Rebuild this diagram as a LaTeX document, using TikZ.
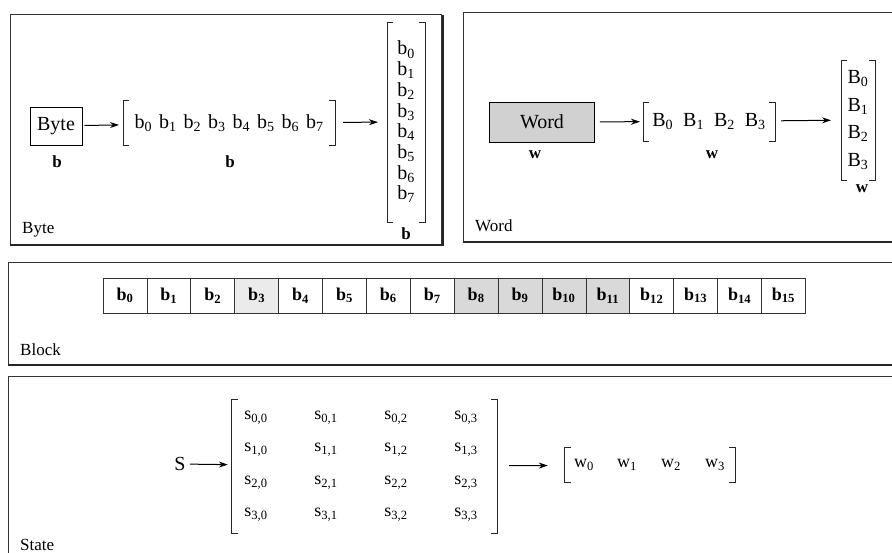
\documentclass[tikz,border=0pt]{standalone}
\usepackage{fontspec}
\setmainfont{Liberation Serif}
\usetikzlibrary{arrows.meta}
\newcommand\bsub[2]{#1\textsubscript{#2}}
\newcommand\gp{\hspace{7pt}}
\newcommand\drawbrackets[2]{%
  \draw[brk] ([xshift=#2]#1.north west) -- (#1.north west) -- (#1.south west) -- ([xshift=#2]#1.south west);
  \draw[brk] ([xshift=-#2]#1.north east) -- (#1.north east) -- (#1.south east) -- ([xshift=-#2]#1.south east);}
\begin{document}
\begin{tikzpicture}[x=1pt,y=-1pt,
  txt/.style={font=\fontsize{20}{22}\selectfont, inner sep=0pt},
  lbl/.style={font=\fontsize{17}{19}\selectfont, inner sep=0pt},
  bld/.style={font=\fontsize{17}{19}\selectfont\bfseries, inner sep=0pt},
  grp/.style={inner sep=0pt, outer sep=0pt, font=\fontsize{20}{20.7}\selectfont, align=center},
  brk/.style={line width=0.9pt, black!85},
  arr/.style={line width=1pt, -{Stealth[length=9pt,width=6pt]}},
  panel/.style={draw=black!80, line width=0.8pt},
  shadow/.style={line width=2.2pt, black!85},
  cell/.style={draw=black!80, line width=0.7pt, minimum width=43.9pt, minimum height=35pt, inner sep=0pt, font=\fontsize{18}{20}\selectfont\bfseries},
  ent/.style={inner sep=0pt, font=\fontsize{18}{20}\selectfont}]
\useasboundingbox (0,0) rectangle (892,553);
\fill[white] (0,0) rectangle (892,553);
% panels
\draw[panel] (10,14) rectangle (441,244);
\draw[shadow] (10,245) -- (443,245) -- (443,15);
\draw[panel] (463,12) rectangle (892,241);
\draw[shadow] (463,242) -- (892,242);
\draw[panel] (8,262) rectangle (892,364);
\draw[shadow] (8,365) -- (892,365);
\draw[panel] (8,376) rectangle (892,560);
% ---- Byte panel
\node[txt, draw, line width=0.8pt, minimum width=52pt, minimum height=38pt] (byte) at (56,126) {Byte};
\node[bld] (bl1) at (57,162) {b};
\node[grp, minimum width=212pt, minimum height=45pt] (hb) at (229,123)
  {\bsub{b}{0}\gp\bsub{b}{1}\gp\bsub{b}{2}\gp\bsub{b}{3}\gp\bsub{b}{4}\gp\bsub{b}{5}\gp\bsub{b}{6}\gp\bsub{b}{7}};
\drawbrackets{hb}{6pt}
\node[bld] (bl2) at (230,162) {b};
\node[grp, minimum width=38pt, minimum height=200pt] (vb) at (406,122)
  {\bsub{b}{0}\\\bsub{b}{1}\\\bsub{b}{2}\\\bsub{b}{3}\\\bsub{b}{4}\\\bsub{b}{5}\\\bsub{b}{6}\\\bsub{b}{7}};
\drawbrackets{vb}{6pt}
\node[bld] (bl3) at (406,234) {b};
\node[lbl, anchor=west] (bytelbl) at (22,230) {Byte};
\draw[arr, shorten >=4pt, shorten <=2pt] (byte) -- (hb);
\draw[arr, shorten >=9pt, shorten <=8pt] (hb) -- (vb);
% ---- Word panel
\node[txt, draw, line width=0.8pt, fill=black!18, minimum width=105pt, minimum height=40pt] (word) at (542,122) {Word};
\node[bld] (wl1) at (535,155) {w};
\node[grp, minimum width=132pt, minimum height=39pt] (hw) at (709,121.5)
  {\bsub{B}{0}\ \ \bsub{B}{1}\ \ \bsub{B}{2}\ \ \bsub{B}{3}};
\drawbrackets{hw}{6pt}
\node[bld] (wl2) at (712,155) {w};
\node[grp, font=\fontsize{20}{27.5}\selectfont, minimum width=34pt, minimum height=120pt] (vw) at (858,120)
  {\bsub{B}{0}\\\bsub{B}{1}\\\bsub{B}{2}\\\bsub{B}{3}};
\drawbrackets{vw}{6pt}
\node[bld] (wl3) at (862,189) {w};
\node[lbl, anchor=west] (wordlbl) at (475,226) {Word};
\draw[arr, shorten >=3pt, shorten <=5pt] (word) -- (hw);
\draw[arr, shorten >=10pt, shorten <=6pt] (hw) -- (vw);
% ---- Block panel
\foreach \i in {0,...,15} {
  \pgfmathsetmacro\shade{ifthenelse(\i==3,8,ifthenelse(\i>7,ifthenelse(\i<12,15,0),0))}
  \node[cell, fill=black!\shade] (c\i) at ({103+43.9*\i+21.95},295.5) {\bsub{b}{\i}};
}
\node[lbl, anchor=west] (blocklbl) at (20,350) {Block};
% ---- State panel
\node[txt] (S) at (180,464) {S};
\node[inner sep=0pt, minimum width=265pt, minimum height=133pt] (sm) at (364.5,466.5) {};
\drawbrackets{sm}{6pt}
\foreach \r/\yy in {0/418,1/450,2/483,3/515} {
  \foreach \c/\xx in {0/256,1/326,2/396,3/466} {
    \node[ent] (s\r\c) at (\xx,\yy) {s\textsubscript{\r,\c}};
  }
}
\node[inner sep=0pt, minimum width=170pt, minimum height=34pt] (ws) at (650,465) {};
\drawbrackets{ws}{6pt}
\foreach \k/\xx in {0/584,1/627,2/671,3/715} {
  \node[ent] (w\k) at (\xx,465) {w\textsubscript{\k}};
}
\draw[arr, shorten >=4pt, shorten <=4pt] (S) -- (sm);
\draw[arr, shorten >=17pt, shorten <=12pt] (sm) -- (ws);
\node[lbl, anchor=west] (statelbl) at (20,545) {State};
\end{tikzpicture}
\end{document}
